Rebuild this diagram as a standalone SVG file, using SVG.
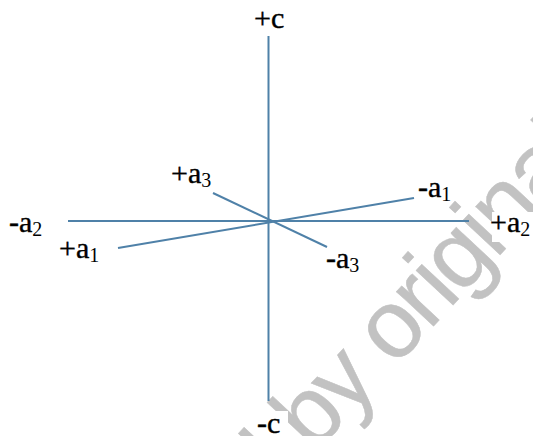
<svg xmlns="http://www.w3.org/2000/svg" width="533" height="436" viewBox="0 0 533 436">
<style>
.ax{stroke:#4f81a8;stroke-width:2;fill:none}
.t{font-family:'Liberation Serif','DejaVu Serif',serif;font-size:30px;fill:#000;stroke:#000;stroke-width:.4px}
.s{font-size:20px;stroke:none}
.w{font-family:"Liberation Sans",Arial,sans-serif;font-size:96px;letter-spacing:-3px;fill:#c2c2c2;stroke:#c2c2c2;stroke-width:.5px}
.h{fill:#fff}
</style>
<rect width="533" height="436" fill="#fff"/>
<text class="w" transform="translate(263,509) rotate(-47)">d by original</text>
<rect class="h" x="254" y="411" width="34" height="25"/>
<rect class="h" x="492" y="212" width="41" height="30"/>
<g id="connectors">
<line class="ax" x1="268.500" y1="36" x2="268.500" y2="401"/>
<line class="ax" x1="68" y1="221" x2="469" y2="221"/>
<line class="ax" x1="118" y1="248" x2="414" y2="198"/>
<line class="ax" x1="213" y1="193" x2="327" y2="247"/>
</g>
<g id="n-plus-c"><text class="t" x="254" y="28">+c</text></g>
<g id="n-minus-c"><text class="t" x="257" y="433">-c</text></g>
<g id="n-minus-a2"><text class="t" x="9" y="232">-a<tspan class="s" dy="4">2</tspan></text></g>
<g id="n-plus-a2"><text class="t" x="490" y="232">+a<tspan class="s" dy="4">2</tspan></text></g>
<g id="n-plus-a1"><text class="t" x="59" y="258">+a<tspan class="s" dy="4">1</tspan></text></g>
<g id="n-minus-a1"><text class="t" x="418" y="197">-a<tspan class="s" dy="4">1</tspan></text></g>
<g id="n-plus-a3"><text class="t" x="171" y="183">+a<tspan class="s" dy="4">3</tspan></text></g>
<g id="n-minus-a3"><text class="t" x="326" y="268">-a<tspan class="s" dy="4">3</tspan></text></g>
</svg>
